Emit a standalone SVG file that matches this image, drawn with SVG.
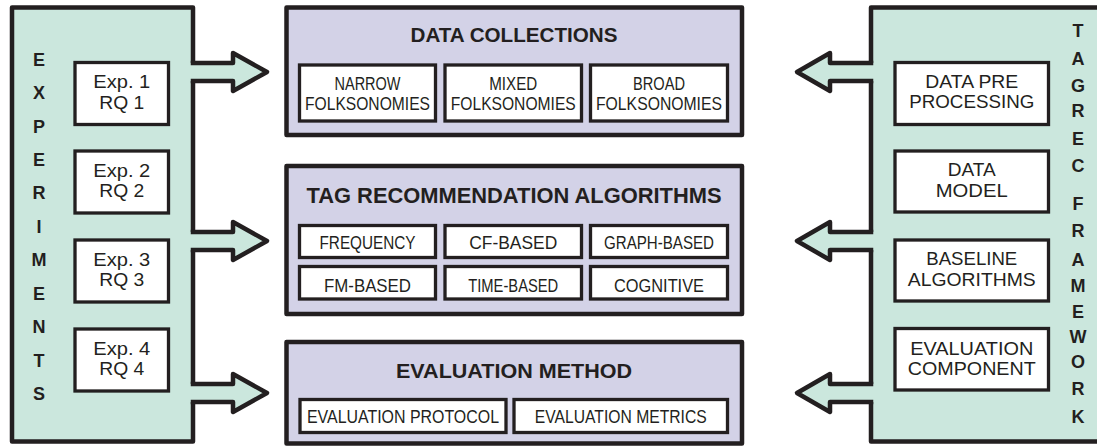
<svg xmlns="http://www.w3.org/2000/svg" width="1097" height="446" viewBox="0 0 1097 446">
<style>
.panel{fill:#cbe7dd;stroke:#231f20;stroke-width:4.5;stroke-linejoin:round}
.main{fill:#d3d2e7;stroke:#231f20;stroke-width:4.5;stroke-linejoin:round}
.sub{fill:#ffffff;stroke:#231f20;stroke-width:3.3}
.t{font-family:"Liberation Sans",Arial,sans-serif;fill:#231f20;text-anchor:middle}
.b{font-weight:bold}
.e{font-size:18px}
.r{font-size:18.5px}
.vl{font-family:"Liberation Sans",Arial,sans-serif;fill:#231f20;text-anchor:middle;font-weight:bold;font-size:18px}
.af{fill:#cbe7dd;stroke:none}
.al{fill:none;stroke:#231f20;stroke-width:4.5;stroke-linejoin:round}
</style>
<rect width="1097" height="446" fill="#ffffff"/>

<g id="experiments">
<rect class="panel" x="12" y="7.5" width="181" height="434"/>
<g class="vl">
<text x="39" y="65.7">E</text>
<text x="39" y="99.1">X</text>
<text x="39" y="132.6">P</text>
<text x="39" y="166">E</text>
<text x="39" y="199.4">R</text>
<text x="39" y="232.9">I</text>
<text x="39" y="266.3">M</text>
<text x="39" y="299.7">E</text>
<text x="39" y="333.1">N</text>
<text x="39" y="366.6">T</text>
<text x="39" y="400">S</text>
</g>
<g id="exp1"><rect class="sub" x="75" y="62.5" width="93.5" height="62"/>
<text class="t e" x="121.75" y="88.35" textLength="57" lengthAdjust="spacingAndGlyphs">Exp. 1</text><text class="t e" x="121.75" y="108.55" textLength="45" lengthAdjust="spacingAndGlyphs">RQ 1</text></g>
<g id="exp2"><rect class="sub" x="75" y="151" width="93.5" height="62"/>
<text class="t e" x="121.75" y="176.85" textLength="57" lengthAdjust="spacingAndGlyphs">Exp. 2</text><text class="t e" x="121.75" y="197.05" textLength="45" lengthAdjust="spacingAndGlyphs">RQ 2</text></g>
<g id="exp3"><rect class="sub" x="75" y="240" width="93.5" height="62"/>
<text class="t e" x="121.75" y="265.85" textLength="57" lengthAdjust="spacingAndGlyphs">Exp. 3</text><text class="t e" x="121.75" y="286.05" textLength="45" lengthAdjust="spacingAndGlyphs">RQ 3</text></g>
<g id="exp4"><rect class="sub" x="75" y="329" width="93.5" height="62"/>
<text class="t e" x="121.75" y="354.85" textLength="57" lengthAdjust="spacingAndGlyphs">Exp. 4</text><text class="t e" x="121.75" y="375.05" textLength="45" lengthAdjust="spacingAndGlyphs">RQ 4</text></g>
</g>

<g id="tagrec-framework">
<rect class="panel" x="871" y="7.5" width="240" height="434"/>
<g class="vl">
<text x="1078" y="36.5">T</text>
<text x="1078" y="65">A</text>
<text x="1078" y="91.7">G</text>
<text x="1078" y="117.3">R</text>
<text x="1078" y="145">E</text>
<text x="1078" y="171.7">C</text>
<text x="1078" y="210">F</text>
<text x="1078" y="237.3">R</text>
<text x="1078" y="265.7">A</text>
<text x="1078" y="291.7">M</text>
<text x="1078" y="318">E</text>
<text x="1078" y="342.5">W</text>
<text x="1078" y="368.3">O</text>
<text x="1078" y="395">R</text>
<text x="1078" y="423">K</text>
</g>
<g id="data-pre-processing"><rect class="sub" x="895" y="62.5" width="153.5" height="62"/>
<text class="t r" x="971.75" y="87.75" textLength="93" lengthAdjust="spacingAndGlyphs">DATA PRE</text>
<text class="t r" x="971.75" y="108.45" textLength="125" lengthAdjust="spacingAndGlyphs">PROCESSING</text></g>
<g id="data-model"><rect class="sub" x="895" y="151" width="153.5" height="61"/>
<text class="t r" x="971.75" y="176.25" textLength="48" lengthAdjust="spacingAndGlyphs">DATA</text>
<text class="t r" x="971.75" y="196.95" textLength="72" lengthAdjust="spacingAndGlyphs">MODEL</text></g>
<g id="baseline-algorithms"><rect class="sub" x="895" y="240" width="153.5" height="61"/>
<text class="t r" x="971.75" y="265.25" textLength="91" lengthAdjust="spacingAndGlyphs">BASELINE</text>
<text class="t r" x="971.75" y="285.95" textLength="128" lengthAdjust="spacingAndGlyphs">ALGORITHMS</text></g>
<g id="evaluation-component"><rect class="sub" x="895" y="328.5" width="153.5" height="61.5"/>
<text class="t r" x="971.75" y="354.75" textLength="123" lengthAdjust="spacingAndGlyphs">EVALUATION</text>
<text class="t r" x="971.75" y="375.45" textLength="128" lengthAdjust="spacingAndGlyphs">COMPONENT</text></g>
</g>

<g id="data-collections">
<rect class="main" x="286.5" y="7.5" width="455.5" height="127.5"/>
<text class="t b" font-size="21" x="514" y="42" textLength="207" lengthAdjust="spacingAndGlyphs">DATA COLLECTIONS</text>
<g id="narrow"><rect class="sub" x="299.5" y="65" width="136" height="56"/>
<text class="t" font-size="17.5" x="367.5" y="90" textLength="66" lengthAdjust="spacingAndGlyphs">NARROW</text>
<text class="t" font-size="17.5" x="367.5" y="110" textLength="125" lengthAdjust="spacingAndGlyphs">FOLKSONOMIES</text></g>
<g id="mixed"><rect class="sub" x="445" y="65" width="136.5" height="56"/>
<text class="t" font-size="17.5" x="513.25" y="90" textLength="48" lengthAdjust="spacingAndGlyphs">MIXED</text>
<text class="t" font-size="17.5" x="513.25" y="110" textLength="125" lengthAdjust="spacingAndGlyphs">FOLKSONOMIES</text></g>
<g id="broad"><rect class="sub" x="590.5" y="65" width="137" height="56"/>
<text class="t" font-size="17.5" x="659" y="90" textLength="52" lengthAdjust="spacingAndGlyphs">BROAD</text>
<text class="t" font-size="17.5" x="659" y="110" textLength="126" lengthAdjust="spacingAndGlyphs">FOLKSONOMIES</text></g>
</g>

<g id="tag-recommendation-algorithms">
<rect class="main" x="286.5" y="166" width="455.5" height="148"/>
<text class="t b" font-size="22" x="514" y="203" textLength="415" lengthAdjust="spacingAndGlyphs">TAG RECOMMENDATION ALGORITHMS</text>
<g id="frequency"><rect class="sub" x="299.5" y="225.5" width="136" height="32"/>
<text class="t" font-size="18" x="367.5" y="249" textLength="96" lengthAdjust="spacingAndGlyphs">FREQUENCY</text></g>
<g id="cf-based"><rect class="sub" x="445" y="225.5" width="136.5" height="32"/>
<text class="t" font-size="18" x="513.25" y="249" textLength="88" lengthAdjust="spacingAndGlyphs">CF-BASED</text></g>
<g id="graph-based"><rect class="sub" x="590.5" y="225.5" width="137" height="32"/>
<text class="t" font-size="18" x="659" y="249" textLength="110" lengthAdjust="spacingAndGlyphs">GRAPH-BASED</text></g>
<g id="fm-based"><rect class="sub" x="299.5" y="266.5" width="136" height="32.5"/>
<text class="t" font-size="18" x="367.5" y="291.5" textLength="87" lengthAdjust="spacingAndGlyphs">FM-BASED</text></g>
<g id="time-based"><rect class="sub" x="445" y="266.5" width="136.5" height="32.5"/>
<text class="t" font-size="18" x="513.25" y="291.5" textLength="90" lengthAdjust="spacingAndGlyphs">TIME-BASED</text></g>
<g id="cognitive"><rect class="sub" x="590.5" y="266.5" width="137" height="32.5"/>
<text class="t" font-size="18" x="659" y="291.5" textLength="90" lengthAdjust="spacingAndGlyphs">COGNITIVE</text></g>
</g>

<g id="evaluation-method">
<rect class="main" x="286.5" y="342" width="455.5" height="101.5"/>
<text class="t b" font-size="21" x="514" y="378" textLength="236" lengthAdjust="spacingAndGlyphs">EVALUATION METHOD</text>
<g id="evaluation-protocol"><rect class="sub" x="300" y="399.5" width="206" height="33"/>
<text class="t" font-size="18" x="403" y="423" textLength="192" lengthAdjust="spacingAndGlyphs">EVALUATION PROTOCOL</text></g>
<g id="evaluation-metrics"><rect class="sub" x="514" y="399.5" width="213.5" height="33"/>
<text class="t" font-size="18" x="620.75" y="423" textLength="172" lengthAdjust="spacingAndGlyphs">EVALUATION METRICS</text></g>
</g>

<g id="connectors">
<polygon class="af" points="188,63 233,63 233,53 267,72 233,91 233,81 188,81"/>
<path class="al" d="M190.75,63 H233 V53 L267,72 L233,91 V81 H190.75"/>
<polygon class="af" points="188,232 233,232 233,222 267,241 233,260 233,250 188,250"/>
<path class="al" d="M190.75,232 H233 V222 L267,241 L233,260 V250 H190.75"/>
<polygon class="af" points="188,384 233,384 233,374 267,393 233,412 233,402 188,402"/>
<path class="al" d="M190.75,384 H233 V374 L267,393 L233,412 V402 H190.75"/>
<polygon class="af" points="876,63 830,63 830,53 797,72 830,91 830,81 876,81"/>
<path class="al" d="M873.25,63 H830 V53 L797,72 L830,91 V81 H873.25"/>
<polygon class="af" points="876,232 830,232 830,222 797,241 830,260 830,250 876,250"/>
<path class="al" d="M873.25,232 H830 V222 L797,241 L830,260 V250 H873.25"/>
<polygon class="af" points="876,384 830,384 830,374 797,393 830,412 830,402 876,402"/>
<path class="al" d="M873.25,384 H830 V374 L797,393 L830,412 V402 H873.25"/>
</g>
</svg>
